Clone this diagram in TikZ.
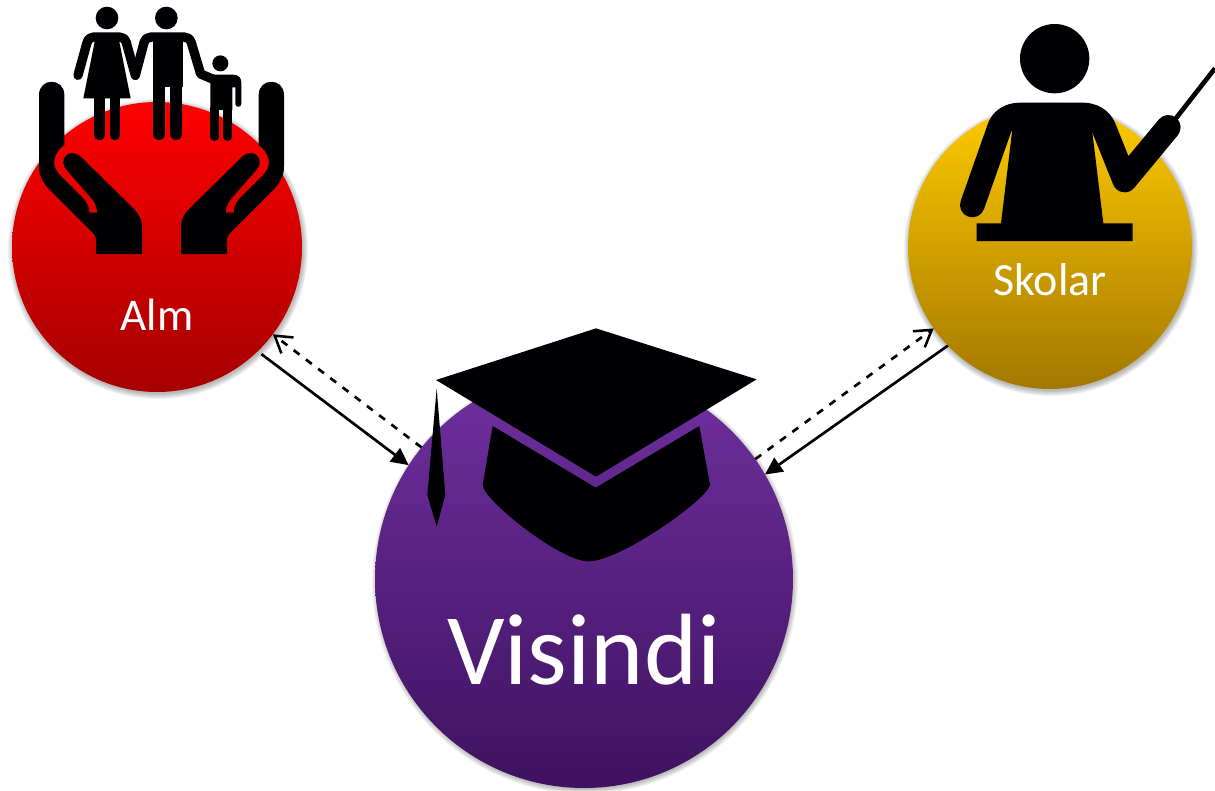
\documentclass[tikz,border=0pt]{standalone}
\usepackage{fontspec}
\setmainfont{Carlito}
\usetikzlibrary{arrows.meta}
\definecolor{redtop}{HTML}{FF0000}
\definecolor{redmid}{HTML}{E40000}
\definecolor{redbot}{HTML}{A50000}
\definecolor{yeltop}{HTML}{FFCA00}
\definecolor{yelmid}{HTML}{E8B400}
\definecolor{yelbot}{HTML}{A37800}
\definecolor{purtop}{HTML}{7030A0}
\definecolor{purmid}{HTML}{5F2290}
\definecolor{purbot}{HTML}{3E1260}
\definecolor{icon}{HTML}{000003}
\tikzset{
  disc/.style={circle,draw=none,inner sep=0pt,outer sep=0pt},
  soft/.style={fill=black,fill opacity=0.05,draw=none},
  caption/.style={text=white,inner sep=0pt},
  solidlink/.style={black,line width=2pt,-{Triangle[length=13pt,width=12.5pt]}},
  dashlink/.style={black,line width=2pt,dash pattern=on 5.5pt off 6pt,-{Straight Barb[length=12pt,width=15pt,line width=1.9pt]}},
  glyph/.style={fill=icon,draw=none},
  limb/.style={draw=icon,line cap=round,line join=round},
  zoomed/.style={x=.25pt,y=-.25pt},
}
\newcommand{\softdisc}[3]{%
  \foreach \k in {1,...,6}{\fill[soft] (#1,#2) circle[radius=#3+\k];}}
\newcommand{\HandShape}{%
  (117,285) .. controls (117,232) and (193,232) .. (193,285) -- (193,435)
  .. controls (165,455) and (150,490) .. (175,520) -- (250,595)
  .. controls (262,610) and (268,622) .. (268,638) -- (292,638)
  .. controls (290,615) and (282,603) .. (270,590) -- (200,510)
  .. controls (175,485) and (200,440) .. (240,468) -- (405,630)
  .. controls (420,648) and (426,662) .. (426,680) -- (426,762) -- (288,762) -- (288,720)
  .. controls (288,708) and (283,702) .. (275,695) -- (145,565)
  .. controls (127,545) and (117,525) .. (117,500) -- cycle}
\begin{document}
\begin{tikzpicture}[x=.75pt,y=-.75pt]
\path[use as bounding box] (0,0) rectangle (1215,790);
% shadows
\softdisc{158}{249}{144}
\softdisc{1051}{249}{141}
\softdisc{585}{581}{207}
% discs
\node[disc,minimum size=217.5pt,top color=redtop,middle color=redmid,bottom color=redbot] (alm) at (157,247) {};
\node[disc,minimum size=213pt,top color=yeltop,middle color=yelmid,bottom color=yelbot] (skolar) at (1050,247) {};
\node[disc,minimum size=313.5pt,top color=purtop,middle color=purmid,bottom color=purbot] (visindi) at (584,579) {};
% labels
\node[caption,font=\fontsize{34}{37}\selectfont] (almtext) at (157,315) {Alm};
\node[caption,font=\fontsize{34.5}{37}\selectfont] (skolartext) at (1050,279.5) {Skolar};
\node[caption,font=\fontsize{76}{82}\selectfont] (visinditext) at (584,650) {Visindi};
% connectors
\draw[solidlink,shorten <=3.5pt] (alm.-46) -- (visindi.147);
\draw[dashlink] (visindi.141.5) -- (alm.-37.7);
\draw[solidlink] (skolar.224.7) -- (visindi.30.2);
\draw[dashlink] (visindi.35.5) -- (skolar.215.6);
% family in hands
\begin{scope}[zoomed]
  \fill[glyph] \HandShape;
  \begin{scope}[shift={(969,0)},xscale=-1]
    \fill[glyph] \HandShape;
  \end{scope}
  % woman
  \fill[glyph] (321,54) circle[radius=34];
  \draw[limb,line width=7pt] (234,226) -- (261,128) .. controls (265,116) and (272,111) .. (282,111) -- (358,111) .. controls (368,111) and (375,116) .. (379,128) -- (406,226);
  \fill[glyph] (285,120) -- (357,120) -- (392,295) -- (250,295) -- cycle;
  \draw[limb,line width=8pt] (298,290) -- (298,405) (345,290) -- (345,405);
  % man
  \fill[glyph] (499,54) circle[radius=34];
  \draw[limb,line width=7pt] (406,226) -- (432,128) .. controls (436,116) and (444,111) .. (454,111) -- (552,111) .. controls (562,111) and (570,116) .. (574,128) -- (602,222) -- (640,238);
  \fill[glyph] (458,120) -- (548,120) -- (548,262) -- (458,262) -- cycle;
  \draw[limb,line width=9pt] (477,255) -- (477,402) (529,255) -- (529,402);
  % child
  \fill[glyph] (661,190) circle[radius=24];
  \fill[glyph] (631,224) -- (700,224) .. controls (716,224) and (724,234) .. (724,248) -- (724,312) .. controls (724,323) and (706,323) .. (706,312) -- (706,262) -- (697,262) -- (697,330) -- (631,330) -- cycle;
  \draw[limb,line width=6.5pt] (644,325) -- (644,410) (683,325) -- (683,410);
\end{scope}
% teacher
\begin{scope}[zoomed,shift={(2700,0)}]
  \fill[glyph] (464,176) circle[radius=104];
  \draw[limb,line width=18.5pt] (217,615) -- (298,385) .. controls (306,360) and (330,345) .. (360,345) -- (548,345) .. controls (578,345) and (602,360) .. (612,385) -- (674,540) -- (805,382);
  \fill[glyph] (338,380) -- (575,380) -- (610,670) -- (698,670) -- (698,723) -- (230,723) -- (230,670) -- (303,670) -- cycle;
  \draw[draw=icon,line width=3.5pt] (820,365) -- (945,205);
\end{scope}
% mortarboard
\begin{scope}[zoomed,shift={(1260,960)}]
  \fill[glyph] (528,25) -- (1010,178) -- (528,470) -- (48,180) -- cycle;
  \fill[glyph] (218,318) -- (527,503) -- (838,318) -- (870,495) .. controls (860,540) and (600,724) .. (505,724) .. controls (420,724) and (190,540) .. (188,495) -- cycle;
  \fill[glyph] (50,205) -- (76,525) -- (50,620) -- (22,525) -- cycle;
\end{scope}
\end{tikzpicture}
\end{document}
